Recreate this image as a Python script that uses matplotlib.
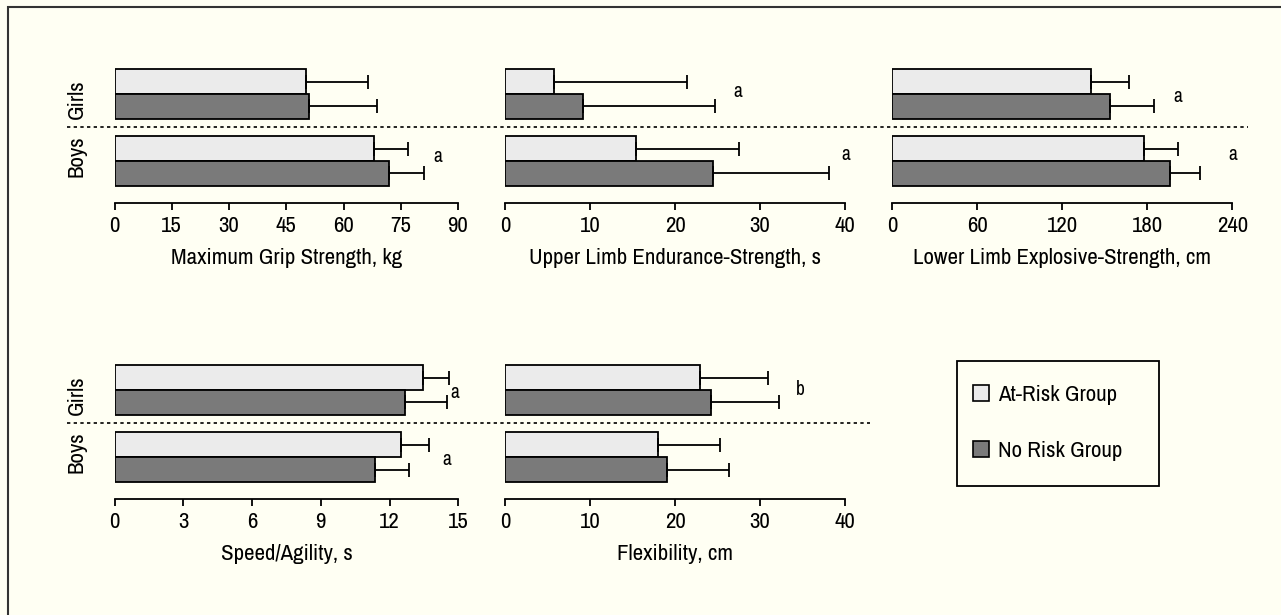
import matplotlib
matplotlib.use('Agg')
import matplotlib.pyplot as plt
from matplotlib.patches import Patch, Rectangle
from matplotlib.lines import Line2D

# data (means and SD), order: Girls, Boys
groups = ['Girls', 'Boys']
legend_labels = ['At-Risk Group', 'No Risk Group']

panels = [
    {'xlabel': 'Maximum Grip Strength, kg', 'ticks': [0, 15, 30, 45, 60, 75, 90],
     'risk': [50.1, 67.9], 'risk_sd': [16.4, 9.1],
     'norisk': [51.0, 71.9], 'norisk_sd': [17.9, 9.2],
     'marks': [('a', 84.7, 0.07)]},
    {'xlabel': 'Upper Limb Endurance-Strength, s', 'ticks': [0, 10, 20, 30, 40],
     'risk': [5.8, 15.4], 'risk_sd': [15.6, 12.1],
     'norisk': [9.2, 24.5], 'norisk_sd': [15.5, 13.6],
     'marks': [('a', 27.4, 1.03), ('a', 40.1, 0.09)]},
    {'xlabel': 'Lower Limb Explosive-Strength, cm', 'ticks': [0, 60, 120, 180, 240],
     'risk': [140.1, 178.0], 'risk_sd': [26.8, 23.5],
     'norisk': [153.5, 196.3], 'norisk_sd': [31.5, 21.1],
     'marks': [('a', 201.7, 0.96), ('a', 240.3, 0.09)]},
    {'xlabel': 'Speed/Agility, s', 'ticks': [0, 3, 6, 9, 12, 15],
     'risk': [13.47, 12.5], 'risk_sd': [1.11, 1.2],
     'norisk': [12.68, 11.36], 'norisk_sd': [1.82, 1.5],
     'marks': [('a', 14.86, 0.96), ('a', 14.52, -0.03)]},
    {'xlabel': 'Flexibility, cm', 'ticks': [0, 10, 20, 30, 40],
     'risk': [22.9, 18.0], 'risk_sd': [8.0, 7.3],
     'norisk': [24.2, 19.1], 'norisk_sd': [8.0, 7.2],
     'marks': [('b', 34.8, 1.01)]},
]

plt.rcParams['font.family'] = ['Archivo Narrow', 'Liberation Sans', 'DejaVu Sans']
fs = 16.5

W, H = 1281, 615
bg = '#fffff3'
light = '#ebebeb'
dark = '#7a7a7a'

fig = plt.figure(figsize=(W / 100, H / 100), dpi=100, facecolor=bg)

def px_box(x0, x1, ytop, ybot):
    return [x0 / W, 1 - ybot / H, (x1 - x0) / W, (ybot - ytop) / H]

# axes boxes in pixels: (left, right, top, bottom)
boxes = [
    (114.5, 458, 60, 203),
    (505, 845, 60, 203),
    (892, 1232.3, 60, 203),
    (114.5, 458.3, 356, 499.3),
    (505, 845, 356, 499.3),
]

h = 0.37
ypos = [1, 0]
for p, b in zip(panels, boxes):
    ax = fig.add_axes(px_box(*b))
    ax.set_facecolor('none')
    err_kw = dict(ecolor='black', elinewidth=1.3, capsize=5, capthick=1.3)
    ax.barh([y + h / 2 for y in ypos], p['risk'], height=h, color=light,
            edgecolor='black', linewidth=1.3,
            xerr=[[0, 0], p['risk_sd']], error_kw=err_kw)
    ax.barh([y - h / 2 for y in ypos], p['norisk'], height=h, color=dark,
            edgecolor='black', linewidth=1.3,
            xerr=[[0, 0], p['norisk_sd']], error_kw=err_kw)
    for txt, x, y in p['marks']:
        ax.text(x, y, txt, fontsize=14, ha='center', va='center')
    ax.set_xlim(p['ticks'][0], p['ticks'][-1])
    ax.set_ylim(-0.627, 1.507)
    ax.set_xticks(p['ticks'])
    ax.set_yticks([])
    for s in ['top', 'right', 'left']:
        ax.spines[s].set_visible(False)
    ax.spines['bottom'].set_linewidth(1.3)
    ax.tick_params(axis='x', length=5, width=1.3, pad=4, labelsize=fs)
    ax.set_xlabel(p['xlabel'], fontsize=fs, labelpad=9)

# group labels and dotted separators
for top, xend in [(60, 1248), (356, 870)]:
    y_girls = top + 34
    y_boys = top + 101
    fig.text(77 / W, 1 - (y_girls + 5) / H, groups[0], rotation=90,
             ha='center', va='center', fontsize=fs)
    fig.text(77 / W, 1 - (y_boys - 5) / H, groups[1], rotation=90,
             ha='center', va='center', fontsize=fs)
    yl = 1 - (top + 67) / H
    fig.add_artist(Line2D([67 / W, xend / W], [yl, yl], color='black',
                          linestyle=(0, (2, 2)), linewidth=1.2))

# legend
fig.add_artist(Rectangle((957 / W, 1 - 486.3 / H), (1159 - 957) / W,
                         (486.3 - 360.7) / H, transform=fig.transFigure,
                         facecolor='none', edgecolor='black', linewidth=1.3))
handles = [Patch(facecolor=light, edgecolor='black', linewidth=1.2),
           Patch(facecolor=dark, edgecolor='black', linewidth=1.2)]
fig.legend(handles, legend_labels, loc='center left',
           bbox_to_anchor=(973 / W, 1 - 423 / H), frameon=False,
           borderpad=0, borderaxespad=0, handlelength=0.7, handleheight=0.7,
           handletextpad=0.4, labelspacing=1.6, fontsize=fs)

# outer frame (cropped on right and bottom)
fig.add_artist(Rectangle((8 / W, -0.1), 1.2, 1 - 7 / H + 0.1,
                         transform=fig.transFigure, facecolor='none',
                         edgecolor='#333333', linewidth=1.5))

fig.savefig('out.png', dpi=100, facecolor=bg)
